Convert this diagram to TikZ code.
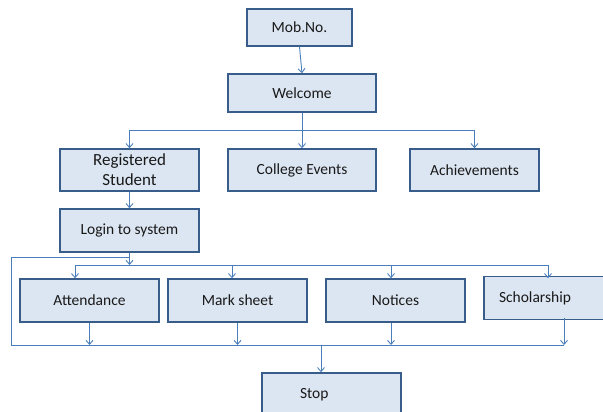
\documentclass[tikz,border=0pt]{standalone}
\usepackage{fontspec}
\setmainfont{Carlito}
\usetikzlibrary{arrows.meta}
\definecolor{boxfill}{HTML}{DCE6F2}
\definecolor{boxline}{HTML}{385D8A}
\definecolor{connline}{HTML}{4A7EBB}
\begin{document}
\begin{tikzpicture}[x=1pt, y=-1pt]

\tikzset{flowbox/.style={draw=boxline, fill=boxfill, line width=1.6pt, rectangle, inner sep=0pt, minimum height=42pt, minimum width=139pt, align=center, font=\fontsize{15.5}{19}\selectfont, text=black!90}}
\tikzset{conn/.style={draw=connline, line width=0.9pt, >={Straight Barb[length=4pt, width=7pt]}}}

\useasboundingbox (0, 0) rectangle (603, 412);

% start and welcome
\node[flowbox, minimum width=105pt, minimum height=37pt] at (299.5, 27.5) (mob) {Mob.No.};
\node[flowbox, minimum width=148pt, minimum height=38pt] at (302, 93) (welcome) {Welcome};

% first level
\node[flowbox, font=\fontsize{17}{20}\selectfont] at (129.5, 170) (reg) {Registered\\Student};
\node[flowbox, minimum width=148pt] at (302, 170) (events) {College Events};
\node[flowbox, minimum width=129pt] at (474.5, 170) (achieve) {Achievements};
\node[flowbox, minimum height=43pt] at (129.5, 230.5) (login) {Login to system};

% student menu
\node[flowbox, minimum height=43pt] at (89.5, 300.5) (attend) {Attendance};
\node[flowbox, minimum height=43pt] at (237.5, 300.5) (marks) {Mark sheet};
\node[flowbox, minimum height=43pt] at (395.5, 300.5) (notices) {Notices};
\node[flowbox, minimum height=43pt, text width=109pt, inner xsep=15pt, align=left] at (553.5, 298) (schol) {Scholarship};

% end
\node[flowbox, minimum height=43pt, text width=63pt, inner xsep=38pt, align=left] at (331.5, 394.5) (stop) {Stop};

% junction points
\coordinate (hub1) at (302, 130);
\coordinate (hub2) at (129.5, 265);
\coordinate (loopstart) at (129.5, 257);
\coordinate (loopcorner) at (11, 257);
\coordinate (busleft) at (11, 345);
\coordinate (busright) at (564, 345);
\coordinate (hub3) at (321, 345);

% connections
\draw[conn, ->] (mob.south) -- (welcome.north);
\draw[conn] (welcome.south) -- (hub1);
\draw[conn, ->] (hub1) -| (reg.north);
\draw[conn, ->] (hub1) -- (events.north);
\draw[conn, ->] (hub1) -| (achieve.north);
\draw[conn, ->] (reg.south) -- (login.north);
\draw[conn, ->] (login.south) -- (hub2);

\draw[conn, ->] (hub2) -| ([xshift=-14.5pt]attend.north);
\draw[conn, ->] (hub2) -| ([xshift=-5.5pt]marks.north);
\draw[conn, ->] (hub2) -| ([xshift=-4.5pt]notices.north);
\draw[conn, ->] (hub2) -| ([xshift=-5.5pt, yshift=-2.5pt]schol.north);

\draw[conn] (loopstart) -- (loopcorner) -- (busleft) -- (busright);
\draw[conn, ->] (attend.south) -- (attend.south |- busleft);
\draw[conn, ->] (marks.south) -- (marks.south |- busleft);
\draw[conn, ->] ([xshift=-4.5pt]notices.south) -- ([xshift=-4.5pt]notices.south |- busleft);
\draw[conn, ->] ([xshift=10.5pt, yshift=2.5pt]schol.south) -- (busright);
\draw[conn, ->] (hub3) -- (stop.north -| hub3);

\end{tikzpicture}
\end{document}
